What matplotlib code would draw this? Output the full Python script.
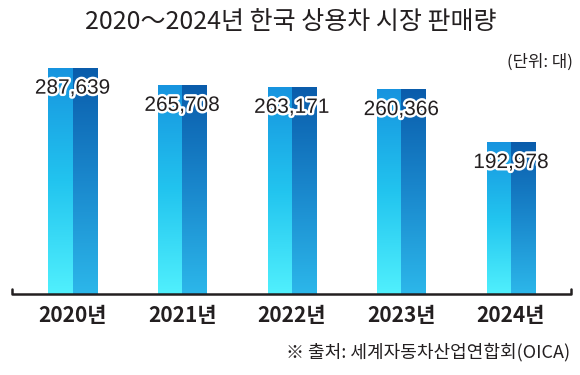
import matplotlib
matplotlib.use('Agg')
import matplotlib.pyplot as plt
import numpy as np
from matplotlib.colors import LinearSegmentedColormap
import matplotlib.patheffects as pe

years = ['2020년', '2021년', '2022년', '2023년', '2024년']
sales = [287639, 265708, 263171, 260366, 192978]
title = '2020～2024년 한국 상용차 시장 판매량'
unit = '(단위: 대)'
source = '※ 출처: 세계자동차산업연합회(OICA)'

TXT = '#231f20'
KR = ['Noto Sans CJK KR', 'DejaVu Sans']
plt.rcParams['font.family'] = KR

W, H = 580, 375
fig = plt.figure(figsize=(W / 100, H / 100), dpi=100)
ax = fig.add_axes([12 / W, 1 - 294 / H, (571 - 12) / W, 235.7 / H])

x = np.arange(len(sales))
bw = 0.438
left = ax.bar(x - bw / 2, sales, width=bw / 2, align='edge', color='none', linewidth=0)
right = ax.bar(x, sales, width=bw / 2, align='edge', color='none', linewidth=0)

cm_l = LinearSegmentedColormap.from_list('l', ['#50f0fd', '#22c4ef', '#1794df'])
cm_r = LinearSegmentedColormap.from_list('r', ['#2cb7ea', '#1a88cd', '#0a5cab'])
grad = np.linspace(0, 1, 256).reshape(-1, 1)
for bars, cm in ((left, cm_l), (right, cm_r)):
    for p in bars:
        x0 = p.get_x(); w = p.get_width(); h = p.get_height()
        ax.imshow(grad, cmap=cm, origin='lower', extent=[x0, x0 + w, 0, h],
                  aspect='auto', zorder=2, interpolation='bilinear')

for xi, v in zip(x, sales):
    ax.annotate(f'{v:,}', (xi, v), xytext=(0, -14.5), textcoords='offset points',
                ha='center', va='center', fontsize=15, color=TXT,
                family=['Liberation Sans', 'DejaVu Sans'], zorder=5,
                path_effects=[pe.withStroke(linewidth=3.5, foreground='white')])

ax.set_xlim(-0.552, 4.548)
ax.set_ylim(0, 300000)
for s in ax.spines.values():
    s.set_visible(False)
ax.set_yticks([])
ax.set_xticks(x, years)
ax.tick_params(axis='x', length=0, pad=8, labelsize=15, colors=TXT)
for lab in ax.get_xticklabels():
    lab.set_fontweight('bold')
ax.plot([0, 0, 1, 1], [0.021, 0, 0, 0.021], transform=ax.transAxes, color=TXT,
        lw=1.8, clip_on=False, solid_joinstyle='round', solid_capstyle='round', zorder=6)
ax.set_facecolor('none')

fig.text(291 / W, 1 - 22 / H, title, ha='center', va='center', fontsize=18, color=TXT)
fig.text(573 / W, 1 - 62 / H, unit, ha='right', va='center', fontsize=12, color=TXT)
fig.text(570 / W, 1 - 352 / H, source, ha='right', va='center', fontsize=13, color=TXT)

fig.savefig('out.png', dpi=100)
